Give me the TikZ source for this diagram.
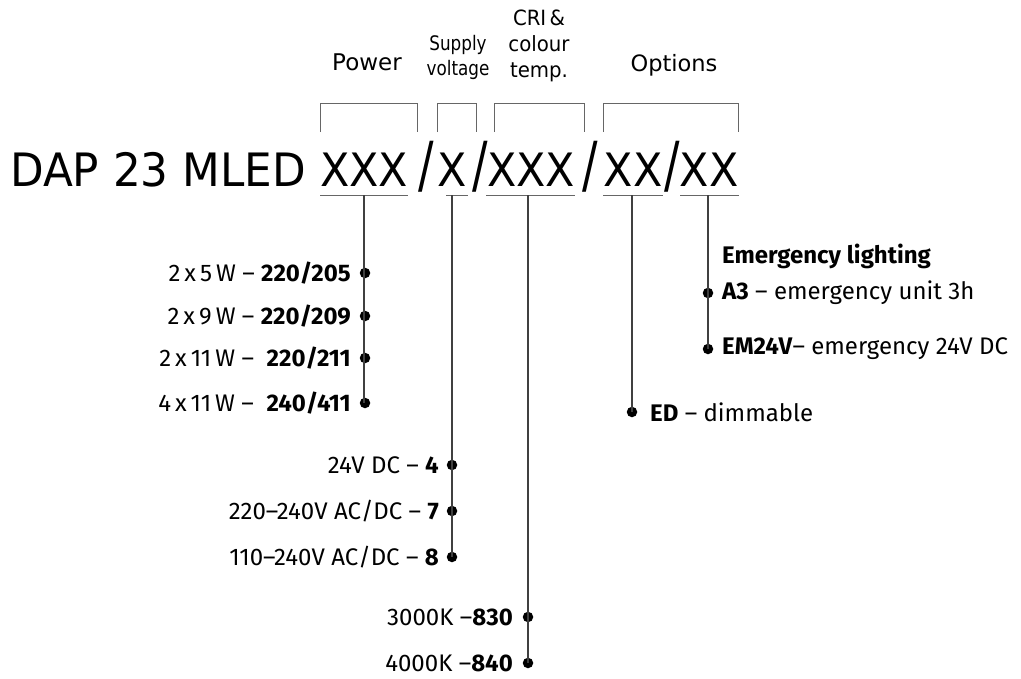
\documentclass[tikz,border=0pt]{standalone}
\usepackage{graphicx}
\usepackage{fontspec}
\setmainfont{DejaVu Sans}
\newfontfamily\lab{Fira Sans}
\newcommand{\slsh}{\scalebox{1}[1.35]{/}}
\begin{document}
\begin{tikzpicture}[x=1pt,y=-1pt,
 big/.style={font=\fontsize{46}{46}\selectfont, inner sep=0, anchor=base},
 hdr/.style={inner sep=0, align=center},
 brk/.style={draw=black!60, line width=0.9pt},
 lead/.style={draw=black!75, line width=1.4pt},
 dotn/.style={circle, fill=black, inner sep=0, minimum size=10.5pt},
 lbl/.style={font=\lab\fontsize{24}{24}\selectfont, inner sep=0},
]
\useasboundingbox (0,0) rectangle (1021,678);

% headers
\node[hdr, font=\fontsize{23}{23}\selectfont] (hpow) at (367,62) {Power};
\node[hdr, font=\fontsize{20}{25}\selectfont] (hsup) at (458,57) {\scalebox{0.84}[1]{Supply}\\\scalebox{0.84}[1]{voltage}};
\node[hdr, font=\fontsize{21}{26}\selectfont] (hcri) at (539,46) {\scalebox{0.94}[1]{CRI\,\&}\\\scalebox{0.94}[1]{colour}\\\scalebox{0.94}[1]{temp.}};
\node[hdr, font=\fontsize{22.5}{23}\selectfont] (hopt) at (674,65) {Options};

% brackets
\draw[brk] (320,132) |- (417,103) -- (417,132);
\draw[brk] (437,132) |- (476,103) -- (476,132);
\draw[brk] (494,132) |- (584,103) -- (584,132);
\draw[brk] (603,132) |- (738,103) -- (738,132);

% main code
\node[big, anchor=base west] (dap) at (10,186) {\scalebox{0.95}[1]{DAP 23 MLED}};
\node[big] (x1) at (364,186) {\scalebox{0.93}[1]{XXX}};
\node[big] (s1) at (426,186) {\slsh};
\node[big] (x2) at (452,186) {\scalebox{0.93}[1]{X}};
\node[big] (s2) at (480,186) {\slsh};
\node[big] (x3) at (531,186) {\scalebox{0.93}[1]{XXX}};
\node[big] (s3) at (590,186) {\slsh};
\node[big] (x4) at (633,186) {\scalebox{0.93}[1]{XX}};
\node[big] (s4) at (672,186) {\slsh};
\node[big] (x5) at (709,186) {\scalebox{0.93}[1]{XX}};

% underlines
\draw[brk] (320,195) -- (408,195);
\draw[brk] (446,195) -- (468,195);
\draw[brk] (486,195) -- (575,195);
\draw[brk] (603,195) -- (663,195);
\draw[brk] (680,195) -- (739,195);

\coordinate (p0) at (364,195);
\coordinate (v0) at (452,195);
\coordinate (c0) at (528,195);
\coordinate (o0) at (632,195);
\coordinate (e0) at (708,195);

% power
\node[dotn] (p1) at (365,273) {};
\node[dotn] (p2) at (365,316) {};
\node[dotn] (p3) at (365,358) {};
\node[dotn] (p4) at (365,403) {};
\draw[lead] (p0) -- (364,403);
\node[lbl, anchor=east] (lp1) at (351,273) {2\,x\,5\,W – \textbf{220/205}};
\node[lbl, anchor=east] (lp2) at (351,316) {2\,x\,9\,W – \textbf{220/209}};
\node[lbl, anchor=east] (lp3) at (351,358) {2\,x\,11\,W – \ \textbf{220/211}};
\node[lbl, anchor=east] (lp4) at (351,403) {4\,x\,11\,W – \ \textbf{240/411}};

% supply
\node[dotn] (v1) at (452,465) {};
\node[dotn] (v2) at (452,511) {};
\node[dotn] (v3) at (452,557) {};
\draw[lead] (v0) -- (v3.center);
\node[lbl, anchor=east] (lv1) at (439,465) {24V DC – \textbf{4}};
\node[lbl, anchor=east] (lv2) at (439,511) {220–240V AC/DC – \textbf{7}};
\node[lbl, anchor=east] (lv3) at (439,557) {110–240V AC/DC – \textbf{8}};

% CRI
\node[dotn] (c1) at (528,617) {};
\node[dotn] (c2) at (528,663) {};
\draw[lead] (c0) -- (c2.center);
\node[lbl, anchor=east] (lc1) at (513,617) {3000K –\textbf{830}};
\node[lbl, anchor=east] (lc2) at (513,663) {4000K –\textbf{840}};

% options: dimmable
\node[dotn] (o1) at (632,412) {};
\draw[lead] (o0) -- (o1.center);
\node[lbl, anchor=west] (lo1) at (650,412) {\textbf{ED} – dimmable};

% options: emergency
\node[dotn] (e1) at (708,293) {};
\node[dotn] (e2) at (708,349) {};
\draw[lead] (e0) -- (e2.center);
\node[lbl, anchor=west] (le0) at (722,256) {\textbf{Emergency lighting}};
\node[lbl, anchor=west] (le1) at (722,293) {\textbf{A3} – emergency unit 3h};
\node[lbl, anchor=west] (le2) at (722,349) {\textbf{EM24V}– emergency 24V DC};
\end{tikzpicture}
\end{document}
